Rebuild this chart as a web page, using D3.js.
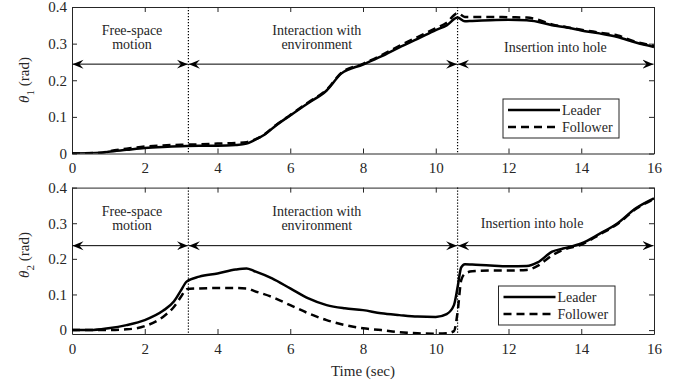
<!DOCTYPE html>
<html>
<head>
<meta charset="utf-8">
<script src="https://cdn.jsdelivr.net/npm/d3@7"></script>
<style>
  body { margin: 0; background: #fff; }
  text { font-family: "Liberation Serif", "Times New Roman", Times, serif; fill: #262626; }
</style>
</head>
<body>
<script>
// ---- data ----
var xTicks = [0, 2, 4, 6, 8, 10, 12, 14, 16];
var yTicks = [0, 0.1, 0.2, 0.3, 0.4];
var yTickLabels = ["0", "0.1", "0.2", "0.3", "0.4"];

var phaseBounds = [0, 3.2, 10.6, 16];

// theta 1
var time1 = [0, 0.8, 1, 1.5, 2, 2.5, 3, 3.5, 4, 4.5, 4.8, 5, 5.3, 5.6, 6, 6.5, 7, 7.4, 8, 8.5, 9, 9.5, 10, 10.3, 10.6, 10.8, 11, 11.5, 12, 12.5, 12.8, 13.2, 13.6, 14, 14.5, 15, 15.5, 16];
var leader1 = [0, 0.002, 0.005, 0.01, 0.015, 0.018, 0.02, 0.021, 0.021, 0.023, 0.027, 0.036, 0.052, 0.076, 0.104, 0.138, 0.172, 0.218, 0.243, 0.265, 0.29, 0.313, 0.337, 0.35, 0.371, 0.361, 0.362, 0.364, 0.365, 0.364, 0.36, 0.35, 0.344, 0.336, 0.328, 0.318, 0.303, 0.291];
var follower1 = [0, 0.002, 0.006, 0.013, 0.019, 0.022, 0.024, 0.025, 0.027, 0.029, 0.031, 0.037, 0.053, 0.077, 0.105, 0.14, 0.174, 0.22, 0.245, 0.268, 0.294, 0.318, 0.342, 0.357, 0.383, 0.373, 0.373, 0.373, 0.372, 0.371, 0.366, 0.352, 0.345, 0.338, 0.33, 0.322, 0.305, 0.294];

// theta 2
var time2 = [0, 0.5, 1, 1.5, 2, 2.5, 2.8, 3, 3.15, 3.5, 4, 4.5, 4.8, 5, 5.5, 6, 6.5, 7, 7.5, 8, 8.5, 9, 9.5, 10, 10.3, 10.5, 10.6, 10.7, 10.8, 11, 11.5, 12, 12.5, 12.8, 13.2, 13.5, 14, 14.5, 15, 15.5, 16];
var leader2 = [0, 0, 0.005, 0.014, 0.028, 0.054, 0.08, 0.112, 0.136, 0.15, 0.159, 0.17, 0.173, 0.166, 0.145, 0.117, 0.089, 0.07, 0.061, 0.056, 0.047, 0.042, 0.038, 0.037, 0.045, 0.07, 0.12, 0.176, 0.185, 0.184, 0.181, 0.179, 0.18, 0.19, 0.22, 0.229, 0.243, 0.27, 0.3, 0.342, 0.37];
var follower2 = [0, 0, 0, 0.002, 0.011, 0.037, 0.065, 0.094, 0.115, 0.117, 0.118, 0.118, 0.117, 0.11, 0.093, 0.07, 0.047, 0.028, 0.014, 0.005, 0, -0.006, -0.009, -0.01, -0.009, -0.003, 0.05, 0.14, 0.158, 0.165, 0.167, 0.167, 0.169, 0.18, 0.21, 0.225, 0.24, 0.268, 0.298, 0.34, 0.368];

var seriesNames = ["Leader", "Follower"];

// ---- layout ----
var width = 686, height = 386;
var svg = d3.select("body").append("svg")
    .attr("width", width)
    .attr("height", height);

var defs = svg.append("defs");
defs.append("marker")
    .attr("id", "arrowHead")
    .attr("viewBox", "-11 -5 12 10")
    .attr("refX", 0).attr("refY", 0)
    .attr("markerWidth", 12).attr("markerHeight", 10)
    .attr("markerUnits", "userSpaceOnUse")
    .attr("orient", "auto-start-reverse")
    .append("path")
    .attr("d", "M0,0 L-11,-4.5 L-7,0 L-11,4.5 Z")
    .attr("fill", "#000");

var x = d3.scaleLinear().domain([0, 16]).range([72, 654]);

var panels = [
  {id: 1, top: 7, bottom: 153.5, domain: [0, 0.4], time: time1, leader: leader1, follower: follower1,
   arrowY: 0.244, labelY: 80, freeY: 35, insertX: 13.29, insertY: 52,
   legend: {x: 503, y: 99, w: 116, h: 39}},
  {id: 2, top: 187.6, bottom: 334, domain: [-0.011, 0.4], time: time2, leader: leader2, follower: follower2,
   arrowY: 0.237, labelY: 255, freeY: 216, insertX: 12.65, insertY: 228,
   legend: {x: 498.5, y: 286, w: 116.5, h: 39}}
];

panels.forEach(function(p) {
  var y = d3.scaleLinear().domain(p.domain).range([p.bottom, p.top]);
  var g = svg.append("g");

  defs.append("clipPath").attr("id", "clip" + p.id)
    .append("rect")
    .attr("x", x(0)).attr("y", p.top)
    .attr("width", x(16) - x(0)).attr("height", p.bottom - p.top);

  // axes (ticks pointing inwards, box on all sides)
  var axB = d3.axisBottom(x).tickValues(xTicks).tickSizeInner(-5).tickSizeOuter(0).tickPadding(9).tickFormat(d3.format("d"));
  var axT = d3.axisTop(x).tickValues(xTicks).tickSizeInner(-5).tickSizeOuter(0).tickFormat("");
  var axL = d3.axisLeft(y).tickValues(yTicks).tickSizeInner(-5).tickSizeOuter(0).tickPadding(5)
      .tickFormat(function(d, i) { return yTickLabels[i]; });
  var axR = d3.axisRight(y).tickValues(yTicks).tickSizeInner(-5).tickSizeOuter(0).tickFormat("");

  [[axB, "translate(0," + p.bottom + ")"], [axT, "translate(0," + p.top + ")"],
   [axL, "translate(" + x(0) + ",0)"], [axR, "translate(" + x(16) + ",0)"]].forEach(function(a) {
    var ag = g.append("g").attr("transform", a[1]).call(a[0]);
    ag.attr("font-family", null);
    ag.selectAll("path, line").attr("stroke", "#262626");
    ag.selectAll("text").style("font-size", "15px").attr("fill", "#262626");
  });

  // phase separators
  g.selectAll(".sep").data(phaseBounds.slice(1, 3)).enter().append("line")
    .attr("x1", function(d) { return x(d); }).attr("x2", function(d) { return x(d); })
    .attr("y1", p.top).attr("y2", p.bottom)
    .attr("stroke", "#000").attr("stroke-width", 1.2)
    .attr("stroke-dasharray", "1.2,1.8");

  // double arrows
  g.selectAll(".arr").data(d3.pairs(phaseBounds)).enter().append("line")
    .attr("x1", function(d) { return x(d[0]) + 0.5; })
    .attr("x2", function(d) { return x(d[1]) - 0.5; })
    .attr("y1", y(p.arrowY)).attr("y2", y(p.arrowY))
    .attr("stroke", "#000").attr("stroke-width", 1)
    .attr("marker-start", "url(#arrowHead)")
    .attr("marker-end", "url(#arrowHead)");

  // phase labels
  var tl = g.append("g").style("font-size", "14px").attr("text-anchor", "middle");
  tl.append("text").attr("x", x(1.65)).attr("y", p.freeY).text("Free-space");
  tl.append("text").attr("x", x(1.65)).attr("y", p.freeY + 14).text("motion");
  tl.append("text").attr("x", x(6.73)).attr("y", p.freeY).text("Interaction with");
  tl.append("text").attr("x", x(6.73)).attr("y", p.freeY + 14).text("environment");
  tl.append("text").attr("x", x(p.insertX)).attr("y", p.insertY).text("Insertion into hole");

  // data lines
  var line = d3.line()
    .curve(d3.curveMonotoneX)
    .x(function(d) { return x(d[0]); })
    .y(function(d) { return y(d[1]); });

  var lines = g.append("g").attr("clip-path", "url(#clip" + p.id + ")");
  lines.append("path")
    .datum(d3.zip(p.time, p.follower))
    .attr("fill", "none").attr("stroke", "#000").attr("stroke-width", 2.5)
    .attr("stroke-dasharray", "8,5")
    .attr("d", line);
  lines.append("path")
    .datum(d3.zip(p.time, p.leader))
    .attr("fill", "none").attr("stroke", "#000").attr("stroke-width", 2.5)
    .attr("d", line);

  // y label
  var yl = g.append("text")
    .attr("transform", "translate(29," + p.labelY + ") rotate(-90)")
    .attr("text-anchor", "middle")
    .style("font-size", "15px");
  yl.append("tspan").style("font-style", "italic").text("\u03b8");
  yl.append("tspan").attr("dy", 5).style("font-size", "11px").text(String(p.id));
  yl.append("tspan").attr("dy", -5).text(" (rad)");

  // legend
  var L = p.legend;
  var lg = g.append("g").attr("transform", "translate(" + L.x + "," + L.y + ")");
  lg.append("rect").attr("width", L.w).attr("height", L.h)
    .attr("fill", "#fff").attr("stroke", "#262626").attr("stroke-width", 1);
  seriesNames.forEach(function(name, i) {
    var yy = 11 + i * 17;
    lg.append("line").attr("x1", 5).attr("x2", 57).attr("y1", yy).attr("y2", yy)
      .attr("stroke", "#000").attr("stroke-width", 2.5)
      .attr("stroke-dasharray", i === 1 ? "8,5" : null);
    lg.append("text").attr("x", 59).attr("y", yy + 5).style("font-size", "14px").text(name);
  });
});

// shared x label
svg.append("text")
  .attr("x", x(8)).attr("y", 376)
  .attr("text-anchor", "middle")
  .style("font-size", "15px")
  .text("Time (sec)");
</script>
</body>
</html>
